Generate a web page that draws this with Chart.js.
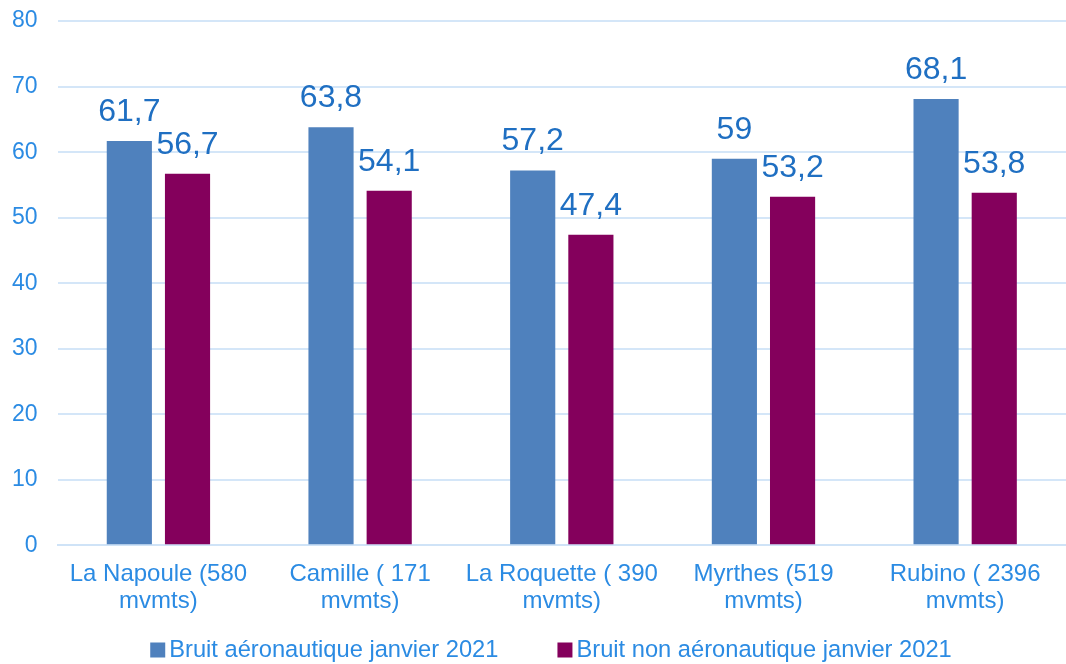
<!DOCTYPE html>
<html>
<head>
<meta charset="utf-8">
<script src="https://cdn.jsdelivr.net/npm/chart.js@4"></script>
<style>
  html, body { margin: 0; padding: 0; background: #fff; }
  #wrap { width: 1066px; height: 664px; position: relative; }
</style>
</head>
<body>
<div id="wrap"><canvas id="myChart"></canvas></div>
<script>
const categories = [
  ["La Napoule (580", "mvmts)"],
  ["Camille ( 171", "mvmts)"],
  ["La Roquette ( 390", "mvmts)"],
  ["Myrthes (519", "mvmts)"],
  ["Rubino ( 2396", "mvmts)"]
];
const aeroValues = [61.7, 63.8, 57.2, 59, 68.1];
const nonAeroValues = [56.7, 54.1, 47.4, 53.2, 53.8];
const seriesNames = ["Bruit aéronautique janvier 2021", "Bruit non aéronautique janvier 2021"];
const yTicks = [0, 10, 20, 30, 40, 50, 60, 70, 80];

const fontFam = "'Liberation Sans', Arial, sans-serif";
const tickColor = "#2B8BE3";
const labelColor = "#1F6FC2";

// draw the value above each bar, french decimal comma
const valueLabels = {
  id: "valueLabels",
  afterDatasetsDraw(chart) {
    const ctx = chart.ctx;
    ctx.save();
    ctx.font = "32px " + fontFam;
    ctx.fillStyle = labelColor;
    ctx.textAlign = "center";
    ctx.textBaseline = "bottom";
    chart.data.datasets.forEach((ds, i) => {
      const meta = chart.getDatasetMeta(i);
      meta.data.forEach((bar, j) => {
        const txt = String(ds.data[j]).replace(".", ",");
        ctx.fillText(txt, bar.x, bar.y - 13);
      });
    });
    ctx.restore();
  }
};

// excel-like legend: small square, text close to it, wide gap between items
const bottomLegend = {
  id: "bottomLegend",
  afterDraw(chart) {
    const ctx = chart.ctx;
    const box = 15, boxGap = 4, itemGap = 59;
    ctx.save();
    ctx.font = "23.7px " + fontFam;
    ctx.textBaseline = "middle";
    ctx.textAlign = "left";
    const items = chart.data.datasets.map(ds => ({
      text: ds.label,
      color: ds.backgroundColor,
      w: ctx.measureText(ds.label).width
    }));
    let total = 0;
    items.forEach((it, i) => { total += box + boxGap + it.w + (i ? itemGap : 0); });
    let x = chart.width / 2 + 18 - total / 2;
    const y = chart.height - 14;
    items.forEach(it => {
      ctx.fillStyle = it.color;
      ctx.fillRect(x, y - box / 2, box, box);
      ctx.fillStyle = tickColor;
      ctx.fillText(it.text, x + box + boxGap, y);
      x += box + boxGap + it.w + itemGap;
    });
    ctx.restore();
  }
};

const ctx = document.getElementById("myChart").getContext("2d");
new Chart(ctx, {
  type: "bar",
  data: {
    labels: categories,
    datasets: [
      {
        label: seriesNames[0],
        data: aeroValues,
        backgroundColor: "#4F81BD",
        categoryPercentage: 0.577,
        barPercentage: 0.776
      },
      {
        label: seriesNames[1],
        data: nonAeroValues,
        backgroundColor: "#84005C",
        categoryPercentage: 0.577,
        barPercentage: 0.776
      }
    ]
  },
  options: {
    responsive: true,
    maintainAspectRatio: false,
    animation: false,
    layout: { padding: { top: 0, right: 0, left: -8, bottom: 41 } },
    plugins: {
      legend: { display: false },
      tooltip: { enabled: false }
    },
    scales: {
      x: {
        grid: { display: false },
        border: { display: true, color: "#CFE3F7", width: 2 },
        ticks: {
          color: tickColor,
          padding: 8,
          maxRotation: 0,
          font: { family: fontFam, size: 24, lineHeight: 1.12 }
        }
      },
      y: {
        min: 0,
        max: 80,
        afterBuildTicks: axis => { axis.ticks = yTicks.map(v => ({ value: v })); },
        grid: { color: "#D4E6F8", lineWidth: 2, drawTicks: false },
        border: { display: false },
        ticks: {
          color: tickColor,
          padding: 20,
          font: { family: fontFam, size: 23, lineHeight: 0.1 }
        }
      }
    }
  },
  plugins: [valueLabels, bottomLegend]
});
</script>
</body>
</html>
